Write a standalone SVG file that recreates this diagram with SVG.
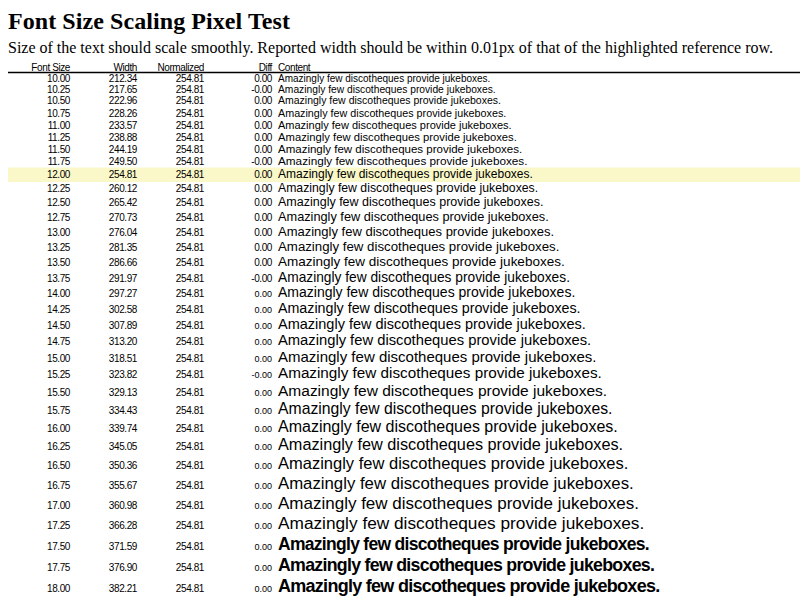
<svg xmlns="http://www.w3.org/2000/svg" width="800" height="600" viewBox="0 0 800 600">
<style>
.t{font-family:"Liberation Serif","Times New Roman",serif;font-weight:bold;font-size:24px;fill:#000}
.s{font-family:"Liberation Serif","Times New Roman",serif;font-size:16px;fill:#000}
.h,.n{font-family:"Liberation Sans",Arial,sans-serif;font-size:10px;letter-spacing:-0.4px;fill:#000;text-anchor:end}
.hl{font-family:"Liberation Sans",Arial,sans-serif;font-size:10px;letter-spacing:-0.4px;fill:#000}
.d{font-size:9px;letter-spacing:0}
.c{font-family:"Liberation Sans",Arial,sans-serif;fill:#000}
.b{font-weight:bold}
</style>
<rect x="0" y="0" width="800" height="600" fill="#fff"/>
<g id="title">
<text class="t" x="8" y="28.5" textLength="282" lengthAdjust="spacing">Font Size Scaling Pixel Test</text>
<text class="s" x="8" y="52.5" textLength="765" lengthAdjust="spacing">Size of the text should scale smoothly. Reported width should be within 0.01px of that of the highlighted reference row.</text>
</g>
<g id="header">
<text class="h" x="70" y="70.5">Font Size</text>
<text class="h" x="137" y="70.5">Width</text>
<text class="h" x="204" y="70.5">Normalized</text>
<text class="h" x="272" y="70.5">Diff</text>
<text class="hl" x="278" y="70.5">Content</text>
<line x1="8" y1="72.5" x2="800" y2="72.5" stroke="#000" stroke-width="1.3"/>
</g>
<rect id="highlight" x="8" y="167.5" width="792" height="14.5" fill="#FAF8C8"/>
<g id="rows">
<g id="r1000"><text class="n" x="70" y="82.4">10.00</text><text class="n" x="137" y="82.4">212.34</text><text class="n" x="204" y="82.4">254.81</text><text class="n" x="272" y="82.4">0.00</text><text class="c" x="278" y="82.4" font-size="10" textLength="212.34" lengthAdjust="spacing">Amazingly few discotheques provide jukeboxes.</text></g>
<g id="r1025"><text class="n" x="70" y="92.9">10.25</text><text class="n" x="137" y="92.9">217.65</text><text class="n" x="204" y="92.9">254.81</text><text class="n" x="272" y="92.9">-0.00</text><text class="c" x="278" y="92.9" font-size="10.25" textLength="217.65" lengthAdjust="spacing">Amazingly few discotheques provide jukeboxes.</text></g>
<g id="r1050"><text class="n" x="70" y="104.4">10.50</text><text class="n" x="137" y="104.4">222.96</text><text class="n" x="204" y="104.4">254.81</text><text class="n" x="272" y="104.4">0.00</text><text class="c" x="278" y="104.4" font-size="10.5" textLength="222.96" lengthAdjust="spacing">Amazingly few discotheques provide jukeboxes.</text></g>
<g id="r1075"><text class="n" x="70" y="116.9">10.75</text><text class="n" x="137" y="116.9">228.26</text><text class="n" x="204" y="116.9">254.81</text><text class="n" x="272" y="116.9">0.00</text><text class="c" x="278" y="116.9" font-size="10.75" textLength="228.26" lengthAdjust="spacing">Amazingly few discotheques provide jukeboxes.</text></g>
<g id="r1100"><text class="n" x="70" y="128.9">11.00</text><text class="n" x="137" y="128.9">233.57</text><text class="n" x="204" y="128.9">254.81</text><text class="n" x="272" y="128.9">0.00</text><text class="c" x="278" y="128.9" font-size="11" textLength="233.57" lengthAdjust="spacing">Amazingly few discotheques provide jukeboxes.</text></g>
<g id="r1125"><text class="n" x="70" y="140.9">11.25</text><text class="n" x="137" y="140.9">238.88</text><text class="n" x="204" y="140.9">254.81</text><text class="n" x="272" y="140.9">0.00</text><text class="c" x="278" y="140.9" font-size="11.25" textLength="238.88" lengthAdjust="spacing">Amazingly few discotheques provide jukeboxes.</text></g>
<g id="r1150"><text class="n" x="70" y="152.9">11.50</text><text class="n" x="137" y="152.9">244.19</text><text class="n" x="204" y="152.9">254.81</text><text class="n" x="272" y="152.9">0.00</text><text class="c" x="278" y="152.9" font-size="11.5" textLength="244.19" lengthAdjust="spacing">Amazingly few discotheques provide jukeboxes.</text></g>
<g id="r1175"><text class="n" x="70" y="165.4">11.75</text><text class="n" x="137" y="165.4">249.50</text><text class="n" x="204" y="165.4">254.81</text><text class="n" x="272" y="165.4">-0.00</text><text class="c" x="278" y="165.4" font-size="11.75" textLength="249.50" lengthAdjust="spacing">Amazingly few discotheques provide jukeboxes.</text></g>
<g id="r1200"><text class="n" x="70" y="178.4">12.00</text><text class="n" x="137" y="178.4">254.81</text><text class="n" x="204" y="178.4">254.81</text><text class="n" x="272" y="178.4">0.00</text><text class="c" x="278" y="178.4" font-size="12" textLength="254.81" lengthAdjust="spacing">Amazingly few discotheques provide jukeboxes.</text></g>
<g id="r1225"><text class="n" x="70" y="192.4">12.25</text><text class="n" x="137" y="192.4">260.12</text><text class="n" x="204" y="192.4">254.81</text><text class="n" x="272" y="192.4">0.00</text><text class="c" x="278" y="192.4" font-size="12.25" textLength="260.12" lengthAdjust="spacing">Amazingly few discotheques provide jukeboxes.</text></g>
<g id="r1250"><text class="n" x="70" y="206.4">12.50</text><text class="n" x="137" y="206.4">265.42</text><text class="n" x="204" y="206.4">254.81</text><text class="n" x="272" y="206.4">0.00</text><text class="c" x="278" y="206.4" font-size="12.5" textLength="265.42" lengthAdjust="spacing">Amazingly few discotheques provide jukeboxes.</text></g>
<g id="r1275"><text class="n" x="70" y="221.4">12.75</text><text class="n" x="137" y="221.4">270.73</text><text class="n" x="204" y="221.4">254.81</text><text class="n" x="272" y="221.4">0.00</text><text class="c" x="278" y="221.4" font-size="12.75" textLength="270.73" lengthAdjust="spacing">Amazingly few discotheques provide jukeboxes.</text></g>
<g id="r1300"><text class="n" x="70" y="236.4">13.00</text><text class="n" x="137" y="236.4">276.04</text><text class="n" x="204" y="236.4">254.81</text><text class="n" x="272" y="236.4">0.00</text><text class="c" x="278" y="236.4" font-size="13" textLength="276.04" lengthAdjust="spacing">Amazingly few discotheques provide jukeboxes.</text></g>
<g id="r1325"><text class="n" x="70" y="251.4">13.25</text><text class="n" x="137" y="251.4">281.35</text><text class="n" x="204" y="251.4">254.81</text><text class="n" x="272" y="251.4">0.00</text><text class="c" x="278" y="251.4" font-size="13.25" textLength="281.35" lengthAdjust="spacing">Amazingly few discotheques provide jukeboxes.</text></g>
<g id="r1350"><text class="n" x="70" y="266.4">13.50</text><text class="n" x="137" y="266.4">286.66</text><text class="n" x="204" y="266.4">254.81</text><text class="n" x="272" y="266.4">0.00</text><text class="c" x="278" y="266.4" font-size="13.5" textLength="286.66" lengthAdjust="spacing">Amazingly few discotheques provide jukeboxes.</text></g>
<g id="r1375"><text class="n" x="70" y="281.9">13.75</text><text class="n" x="137" y="281.9">291.97</text><text class="n" x="204" y="281.9">254.81</text><text class="n" x="272" y="281.9">-0.00</text><text class="c" x="278" y="281.9" font-size="13.75" textLength="291.97" lengthAdjust="spacing">Amazingly few discotheques provide jukeboxes.</text></g>
<g id="r1400"><text class="n" x="70" y="297.4">14.00</text><text class="n" x="137" y="297.4">297.27</text><text class="n" x="204" y="297.4">254.81</text><text class="n d" x="272" y="297.4">0.00</text><text class="c" x="278" y="297.4" font-size="14" textLength="297.27" lengthAdjust="spacing">Amazingly few discotheques provide jukeboxes.</text></g>
<g id="r1425"><text class="n" x="70" y="313.4">14.25</text><text class="n" x="137" y="313.4">302.58</text><text class="n" x="204" y="313.4">254.81</text><text class="n d" x="272" y="313.4">0.00</text><text class="c" x="278" y="313.4" font-size="14.25" textLength="302.58" lengthAdjust="spacing">Amazingly few discotheques provide jukeboxes.</text></g>
<g id="r1450"><text class="n" x="70" y="329.4">14.50</text><text class="n" x="137" y="329.4">307.89</text><text class="n" x="204" y="329.4">254.81</text><text class="n d" x="272" y="329.4">0.00</text><text class="c" x="278" y="329.4" font-size="14.5" textLength="307.89" lengthAdjust="spacing">Amazingly few discotheques provide jukeboxes.</text></g>
<g id="r1475"><text class="n" x="70" y="345.4">14.75</text><text class="n" x="137" y="345.4">313.20</text><text class="n" x="204" y="345.4">254.81</text><text class="n d" x="272" y="345.4">0.00</text><text class="c" x="278" y="345.4" font-size="14.75" textLength="313.20" lengthAdjust="spacing">Amazingly few discotheques provide jukeboxes.</text></g>
<g id="r1500"><text class="n" x="70" y="361.9">15.00</text><text class="n" x="137" y="361.9">318.51</text><text class="n" x="204" y="361.9">254.81</text><text class="n d" x="272" y="361.9">0.00</text><text class="c" x="278" y="361.9" font-size="15" textLength="318.51" lengthAdjust="spacing">Amazingly few discotheques provide jukeboxes.</text></g>
<g id="r1525"><text class="n" x="70" y="378.4">15.25</text><text class="n" x="137" y="378.4">323.82</text><text class="n" x="204" y="378.4">254.81</text><text class="n d" x="272" y="378.4">-0.00</text><text class="c" x="278" y="378.4" font-size="15.25" textLength="323.82" lengthAdjust="spacing">Amazingly few discotheques provide jukeboxes.</text></g>
<g id="r1550"><text class="n" x="70" y="395.9">15.50</text><text class="n" x="137" y="395.9">329.13</text><text class="n" x="204" y="395.9">254.81</text><text class="n d" x="272" y="395.9">0.00</text><text class="c" x="278" y="395.9" font-size="15.5" textLength="329.13" lengthAdjust="spacing">Amazingly few discotheques provide jukeboxes.</text></g>
<g id="r1575"><text class="n" x="70" y="413.9">15.75</text><text class="n" x="137" y="413.9">334.43</text><text class="n" x="204" y="413.9">254.81</text><text class="n d" x="272" y="413.9">0.00</text><text class="c" x="278" y="413.9" font-size="15.75" textLength="334.43" lengthAdjust="spacing">Amazingly few discotheques provide jukeboxes.</text></g>
<g id="r1600"><text class="n" x="70" y="431.9">16.00</text><text class="n" x="137" y="431.9">339.74</text><text class="n" x="204" y="431.9">254.81</text><text class="n d" x="272" y="431.9">0.00</text><text class="c" x="278" y="431.9" font-size="16" textLength="339.74" lengthAdjust="spacing">Amazingly few discotheques provide jukeboxes.</text></g>
<g id="r1625"><text class="n" x="70" y="450.4">16.25</text><text class="n" x="137" y="450.4">345.05</text><text class="n" x="204" y="450.4">254.81</text><text class="n d" x="272" y="450.4">0.00</text><text class="c" x="278" y="450.4" font-size="16.25" textLength="345.05" lengthAdjust="spacing">Amazingly few discotheques provide jukeboxes.</text></g>
<g id="r1650"><text class="n" x="70" y="469.4">16.50</text><text class="n" x="137" y="469.4">350.36</text><text class="n" x="204" y="469.4">254.81</text><text class="n d" x="272" y="469.4">0.00</text><text class="c" x="278" y="469.4" font-size="16.5" textLength="350.36" lengthAdjust="spacing">Amazingly few discotheques provide jukeboxes.</text></g>
<g id="r1675"><text class="n" x="70" y="488.9">16.75</text><text class="n" x="137" y="488.9">355.67</text><text class="n" x="204" y="488.9">254.81</text><text class="n d" x="272" y="488.9">0.00</text><text class="c" x="278" y="488.9" font-size="16.75" textLength="355.67" lengthAdjust="spacing">Amazingly few discotheques provide jukeboxes.</text></g>
<g id="r1700"><text class="n" x="70" y="508.9">17.00</text><text class="n" x="137" y="508.9">360.98</text><text class="n" x="204" y="508.9">254.81</text><text class="n d" x="272" y="508.9">0.00</text><text class="c" x="278" y="508.9" font-size="17" textLength="360.98" lengthAdjust="spacing">Amazingly few discotheques provide jukeboxes.</text></g>
<g id="r1725"><text class="n" x="70" y="528.9">17.25</text><text class="n" x="137" y="528.9">366.28</text><text class="n" x="204" y="528.9">254.81</text><text class="n d" x="272" y="528.9">0.00</text><text class="c" x="278" y="528.9" font-size="17.25" textLength="366.28" lengthAdjust="spacing">Amazingly few discotheques provide jukeboxes.</text></g>
<g id="r1750"><text class="n" x="70" y="550.4">17.50</text><text class="n" x="137" y="550.4">371.59</text><text class="n" x="204" y="550.4">254.81</text><text class="n d" x="272" y="550.4">0.00</text><text class="c b" x="278" y="550.4" font-size="17.5" textLength="371.59" lengthAdjust="spacing">Amazingly few discotheques provide jukeboxes.</text></g>
<g id="r1775"><text class="n" x="70" y="571.4">17.75</text><text class="n" x="137" y="571.4">376.90</text><text class="n" x="204" y="571.4">254.81</text><text class="n d" x="272" y="571.4">0.00</text><text class="c b" x="278" y="571.4" font-size="17.75" textLength="376.90" lengthAdjust="spacing">Amazingly few discotheques provide jukeboxes.</text></g>
<g id="r1800"><text class="n" x="70" y="592.4">18.00</text><text class="n" x="137" y="592.4">382.21</text><text class="n" x="204" y="592.4">254.81</text><text class="n d" x="272" y="592.4">0.00</text><text class="c b" x="278" y="592.4" font-size="18" textLength="382.21" lengthAdjust="spacing">Amazingly few discotheques provide jukeboxes.</text></g>
</g>
</svg>
